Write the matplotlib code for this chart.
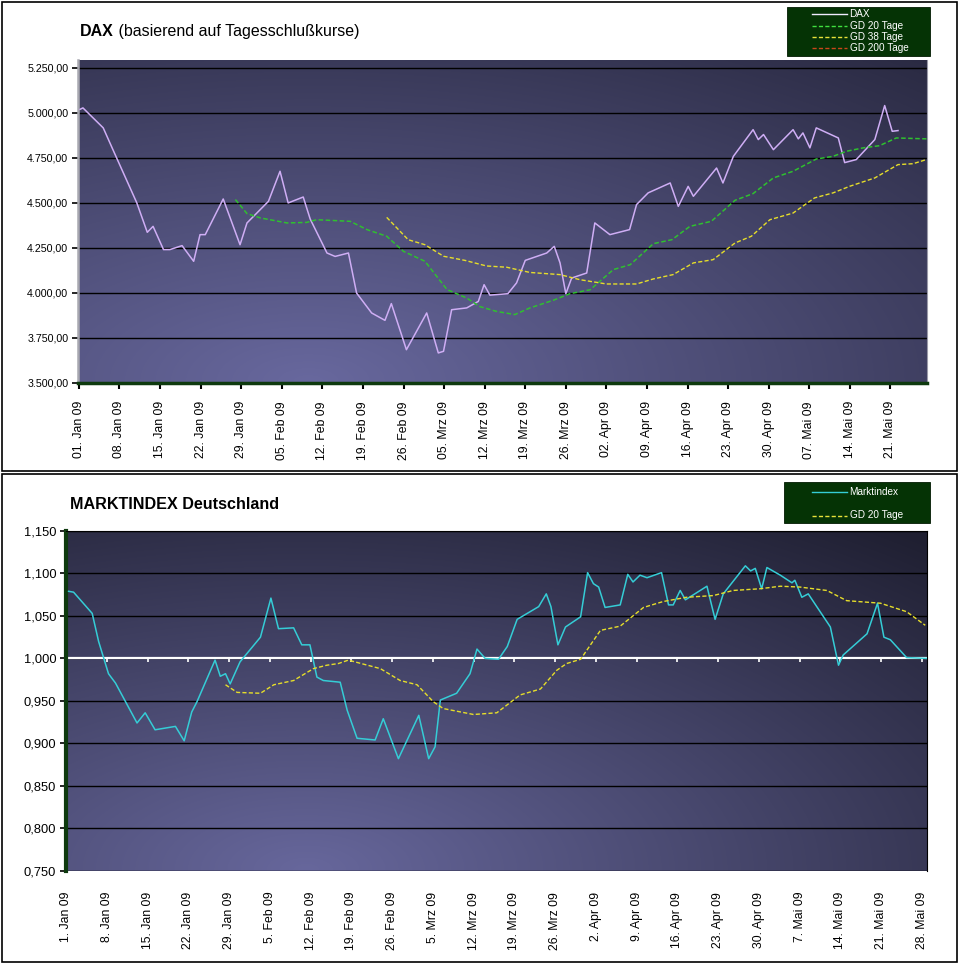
import numpy as np
import pandas as pd
import matplotlib
matplotlib.use("Agg")
import matplotlib.pyplot as plt
from matplotlib.lines import Line2D
from matplotlib.patches import Rectangle

plt.rcParams['font.family'] = ['Liberation Sans', 'DejaVu Sans']

BASE = pd.Timestamp('2009-01-01')

# ---------------- DATA (day offsets from 01.01.2009) ----------------
dax_days = [0.2, 0.7, 4.2, 6.0, 10.0, 11.8, 12.8, 14.6, 15.7, 17.8, 19.8, 20.9, 21.8,
            24.9, 27.8, 29.0, 32.7, 34.7, 36.1, 38.7, 39.9, 42.8, 44.2, 46.5, 47.9,
            50.5, 52.8, 53.9, 56.5, 60.0, 62.0, 62.9, 64.3, 66.9, 68.9, 69.9, 70.9,
            74.0, 75.5, 77.0, 80.7, 82.0, 83.0, 84.0, 85.0, 87.6, 89.0, 91.6, 95.0,
            96.2, 98.2, 102.0, 103.4, 105.1, 106.0, 110.0, 111.1, 112.9, 116.3, 117.2,
            118.1, 119.8, 123.2, 124.1, 124.9, 126.1, 127.2, 131.0, 132.1, 134.1,
            137.3, 139.0, 140.3, 141.3]
dax_vals = [5020, 5028, 4917, 4787, 4500, 4337, 4370, 4241, 4241, 4263, 4176, 4324, 4324,
            4522, 4268, 4389, 4509, 4676, 4500, 4533, 4411, 4222, 4203, 4222, 4000,
            3889, 3848, 3941, 3685, 3889, 3667, 3676, 3907, 3917, 3953, 4046, 3988,
            3996, 4056, 4181, 4222, 4259, 4167, 3996, 4083, 4111, 4389, 4324, 4352,
            4491, 4556, 4611, 4481, 4592, 4537, 4694, 4611, 4759, 4907, 4852,
            4880, 4796, 4907, 4856, 4889, 4806, 4917, 4861, 4724, 4741,
            4852, 5041, 4898, 4902]

gd20_days = [27.0, 29.0, 31.3, 35.9, 39.3, 41.0, 46.8, 49.7, 53.1, 56.0, 59.7, 63.5,
             66.9, 69.2, 72.0, 75.2, 77.8, 81.8, 84.7, 88.2, 92.2, 95.1, 99.1, 102.3,
             105.4, 109.1, 113.2, 116.3, 119.8, 123.2, 127.2, 130.1, 132.4, 135.3,
             138.1, 141.0, 146.2]
gd20_vals = [4519, 4441, 4417, 4389, 4392, 4407, 4398, 4352, 4315, 4231, 4176, 4019,
             3972, 3924, 3898, 3880, 3917, 3959, 3996, 4018, 4130, 4157, 4274, 4296,
             4370, 4398, 4515, 4552, 4639, 4676, 4744, 4759, 4787, 4806,
             4818, 4861, 4856]

gd38_days = [53.1, 56.8, 59.7, 62.9, 66.6, 70.3, 73.8, 77.8, 83.0, 86.4, 91.0, 96.2,
             99.1, 102.5, 106.0, 109.4, 113.2, 116.0, 119.2, 123.2, 126.9, 130.1,
             133.0, 137.3, 141.3, 143.9, 146.2]
gd38_vals = [4420, 4296, 4268, 4204, 4181, 4150, 4143, 4114, 4102, 4074, 4050, 4050,
             4078, 4102, 4167, 4185, 4278, 4315, 4407, 4444, 4528, 4556,
             4593, 4639, 4713, 4718, 4741]

mkt_days = [0.45, 1.3, 4.5, 5.6, 7.3, 8.5, 12.2, 13.6, 15.3, 18.8, 20.3, 21.6, 22.5,
            25.6, 26.5, 27.4, 28.2, 29.9, 33.4, 35.2, 36.5, 39.1, 40.5, 41.9, 43.1,
            44.2, 47.1, 48.3, 50.0, 53.1, 54.5, 57.1, 60.6, 62.3, 63.4, 64.3, 67.1,
            69.4, 70.6, 72.0, 74.3, 75.8, 77.5, 81.2, 82.5, 83.3, 84.5, 85.8, 88.4,
            89.6, 90.6, 91.5, 92.6, 95.2, 96.5, 97.4, 98.6, 99.8, 102.3, 103.5, 104.3,
            105.5, 106.4, 110.1, 111.5, 112.9, 116.7, 117.6, 118.4, 119.5, 120.4,
            122.7, 124.7, 125.2, 126.4, 127.5, 131.3, 132.7, 133.5, 137.6, 139.4,
            140.5, 141.6, 144.4, 147.9]
mkt_vals = [1.079, 1.078, 1.053, 1.020, 0.982, 0.971, 0.924, 0.936, 0.916, 0.920, 0.903,
            0.937, 0.949, 0.998, 0.979, 0.982, 0.970, 0.996, 1.025, 1.071, 1.035, 1.036,
            1.016, 1.016, 0.978, 0.974, 0.972, 0.939, 0.906, 0.904, 0.929, 0.882, 0.933,
            0.882, 0.896, 0.951, 0.959, 0.982, 1.011, 1.000, 0.999, 1.014, 1.046, 1.061,
            1.076, 1.061, 1.016, 1.037, 1.049, 1.101, 1.088, 1.084, 1.060, 1.063, 1.099,
            1.090, 1.098, 1.095, 1.101, 1.063, 1.063, 1.080, 1.069, 1.085, 1.046, 1.076,
            1.109, 1.103, 1.106, 1.082, 1.107, 1.098, 1.089, 1.092, 1.072, 1.076, 1.037,
            0.992, 1.004, 1.029, 1.065, 1.025, 1.022, 1.001, 1.000]

mgd20_days = [27.4, 29.4, 33.4, 35.7, 39.1, 42.5, 44.8, 46.8, 48.5, 54.0, 57.4, 60.3,
              63.1, 64.8, 70.0, 74.0, 78.0, 81.5, 84.3, 86.0, 88.4, 91.8, 95.2, 99.2,
              102.6, 106.6, 111.2, 114.6, 119.2, 122.7, 126.1, 130.7, 134.1, 139.9,
              144.4, 147.6]
mgd20_vals = [0.969, 0.960, 0.959, 0.969, 0.974, 0.988, 0.992, 0.994, 0.998, 0.988,
              0.974, 0.969, 0.949, 0.941, 0.934, 0.936, 0.957, 0.964, 0.986, 0.994,
              0.999, 1.033, 1.038, 1.060, 1.067, 1.072, 1.074, 1.080, 1.082, 1.085,
              1.084, 1.080, 1.068, 1.065, 1.055, 1.039]

top_yticks = [3500, 3750, 4000, 4250, 4500, 4750, 5000, 5250]
top_ylabels = ['3.500,00', '3.750,00', '4.000,00', '4.250,00', '4.500,00',
               '4.750,00', '5.000,00', '5.250,00']
top_xlabels = ['01. Jan 09', '08. Jan 09', '15. Jan 09', '22. Jan 09', '29. Jan 09',
               '05. Feb 09', '12. Feb 09', '19. Feb 09', '26. Feb 09', '05. Mrz 09',
               '12. Mrz 09', '19. Mrz 09', '26. Mrz 09', '02. Apr 09', '09. Apr 09',
               '16. Apr 09', '23. Apr 09', '30. Apr 09', '07. Mai 09', '14. Mai 09',
               '21. Mai 09']
bot_yticks = [0.75, 0.80, 0.85, 0.90, 0.95, 1.00, 1.05, 1.10, 1.15]
bot_ylabels = ['0,750', '0,800', '0,850', '0,900', '0,950', '1,000', '1,050',
               '1,100', '1,150']
bot_xlabels = ['1. Jan 09', '8. Jan 09', '15. Jan 09', '22. Jan 09', '29. Jan 09',
               '5. Feb 09', '12. Feb 09', '19. Feb 09', '26. Feb 09', '5. Mrz 09',
               '12. Mrz 09', '19. Mrz 09', '26. Mrz 09', '2. Apr 09', '9. Apr 09',
               '16. Apr 09', '23. Apr 09', '30. Apr 09', '7. Mai 09', '14. Mai 09',
               '21. Mai 09', '28. Mai 09']


def to_dates(days):
    return BASE + pd.to_timedelta(np.asarray(days, dtype=float), unit='D')


W, H = 958, 964
fig = plt.figure(figsize=(W / 100, H / 100), dpi=100)
fig.patch.set_facecolor('white')


def fpos(x0, y0, x1, y1):
    return [x0 / W, 1 - y1 / H, (x1 - x0) / W, (y1 - y0) / H]


def background(pos, cx, rx, ry, light, dark, gamma=1.0):
    bg = fig.add_axes(pos, zorder=0)
    wpx = pos[2] * W
    hpx = pos[3] * H
    xs = np.linspace(0, wpx, 400)
    ys = np.linspace(0, hpx, 160)
    X, Y = np.meshgrid(xs, ys)
    d = np.sqrt(((X - cx) / rx) ** 2 + (Y / ry) ** 2)
    f = np.clip(1 - d, 0, 1) ** gamma
    light = np.array(light) / 255.0
    dark = np.array(dark) / 255.0
    img = dark + (light - dark) * f[..., None]
    bg.imshow(img, extent=(0, 1, 0, 1), origin='lower', aspect='auto',
              interpolation='bilinear')
    bg.set_axis_off()
    return bg


dash = (0, (3, 1.6))

# ---------------- TOP CHART ----------------
pos_top = fpos(78, 60, 927, 383)
background(pos_top, cx=230, rx=950, ry=430, light=(0x68, 0x68, 0x9e),
           dark=(0x2a, 0x2a, 0x42))
ax = fig.add_axes(pos_top, zorder=1)
ax.patch.set_alpha(0)
ax.plot(to_dates(dax_days), dax_vals, color='#cfaef5', lw=1.1, zorder=3)
ax.plot(to_dates(gd20_days), gd20_vals, color='#2fc02f', lw=1.1, ls=dash, zorder=3)
ax.plot(to_dates(gd38_days), gd38_vals, color='#e6de2a', lw=1.0, ls=dash, zorder=3)
ax.set_ylim(3500, 5294)
ax.set_xlim(to_dates([-0.15])[0], to_dates([146.3])[0])
ax.set_yticks(top_yticks)
ax.set_yticklabels(top_ylabels, fontsize=7.7)
tdates = to_dates(np.arange(len(top_xlabels)) * 7)
ax.set_xticks(tdates)
ax.set_xticklabels(top_xlabels, rotation=90, fontsize=8.8)
ax.yaxis.grid(True, color='black', lw=1.0)
ax.set_axisbelow(True)
ax.tick_params(axis='y', length=4, width=1.2, color='black', pad=3)
ax.tick_params(axis='x', length=4, width=1.5, color='black', pad=9)
ax.spines['left'].set_color('#a8a8b0')
ax.spines['left'].set_linewidth(1.8)
ax.spines['bottom'].set_color('#0e3a0e')
ax.spines['bottom'].set_linewidth(2.5)
ax.spines['top'].set_visible(False)
ax.spines['right'].set_color('#9a9aa8')
ax.spines['right'].set_linewidth(0.8)

t1 = ax.text(80 / W, 1 - 36 / H, 'DAX', transform=fig.transFigure, fontsize=11.5,
             fontweight='bold', va='baseline', ha='left')
ax.annotate(' (basierend auf Tagesschlußkurse)', xy=(1, 0), xycoords=t1,
            va='bottom', ha='left', fontsize=11.5, annotation_clip=False)

# ---------------- BOTTOM CHART ----------------
pos_bot = fpos(66, 531, 927, 870.8)
background(pos_bot, cx=240, rx=950, ry=440, light=(0x67, 0x67, 0x9c),
           dark=(0x1f, 0x1f, 0x31))
bx = fig.add_axes(pos_bot, zorder=1)
bx.patch.set_alpha(0)
bx.plot(to_dates(mkt_days), mkt_vals, color='#35cdd6', lw=1.1, zorder=3)
bx.plot(to_dates(mgd20_days), mgd20_vals, color='#e6de2a', lw=1.0, ls=dash, zorder=3)
bx.set_ylim(0.75, 1.15)
bx.set_xlim(to_dates([0.0])[0], to_dates([147.9])[0])
bx.set_yticks(bot_yticks)
bx.set_yticklabels(bot_ylabels, fontsize=9.3)
bdates = to_dates(np.arange(len(bot_xlabels)) * 7)
bx.set_xticks(bdates)
bx.set_xticklabels(bot_xlabels, rotation=90, fontsize=8.8)
bx.yaxis.grid(True, color='black', lw=1.0)
bx.set_axisbelow(True)
bx.axhline(1.0, color='white', lw=1.6, zorder=1)
bx.vlines(bdates, 1.0 - 0.0045, 1.0, color='white', lw=1.2, zorder=1)
bx.tick_params(axis='y', length=4, width=1.2, color='black', pad=3)
bx.tick_params(axis='x', length=0, pad=15)
bx.spines['left'].set_color('#0e3a0e')
bx.spines['left'].set_linewidth(3)
bx.spines['bottom'].set_visible(False)
bx.spines['top'].set_color('black')
bx.spines['top'].set_linewidth(0.8)
bx.spines['right'].set_color('black')
bx.spines['right'].set_linewidth(0.8)

bx.text(70.5 / W, 1 - 509 / H, 'MARKTINDEX Deutschland', transform=fig.transFigure,
        fontsize=11.6, fontweight='bold', va='baseline', ha='left')

# ---------------- LEGENDS ----------------
def legend_box(x0, y0, x1, y1, entries, rows):
    fig.add_artist(Rectangle((x0 / W, 1 - y1 / H), (x1 - x0) / W, (y1 - y0) / H,
                             transform=fig.transFigure, facecolor='#053305',
                             edgecolor='#021a02', lw=0.6, zorder=5))
    for (label, color, ls), ry in zip(entries, rows):
        fig.add_artist(Line2D([812 / W, 847 / W], [1 - ry / H, 1 - ry / H],
                              transform=fig.transFigure, color=color, lw=1.0, ls=ls,
                              zorder=6))
        fig.text(849.5 / W, 1 - ry / H, label, color='white', fontsize=7.2,
                 va='center', ha='left', zorder=6)


legend_box(787, 7, 930, 56,
           [('DAX', '#f0eaff', '-'), ('GD 20 Tage', '#3fe03f', dash),
            ('GD 38 Tage', '#e8e23a', dash), ('GD 200 Tage', '#c8461a', dash)],
           [14.3, 25.7, 37.0, 48.2])
legend_box(784, 482, 930, 523,
           [('Marktindex', '#35cdd6', '-'), ('GD 20 Tage', '#e8e23a', dash)],
           [492, 515.5])

# ---------------- FRAMES ----------------
fig.add_artist(Rectangle((1.5 / W, 1 - 471 / H), 955 / W, 469.5 / H,
                         transform=fig.transFigure, fill=False, ec='black', lw=1.2))
fig.add_artist(Rectangle((2 / W, 1 - 962 / H), 954.5 / W, 488 / H,
                         transform=fig.transFigure, fill=False, ec='black', lw=1.2))

fig.savefig('out.png', dpi=100, facecolor='white')
